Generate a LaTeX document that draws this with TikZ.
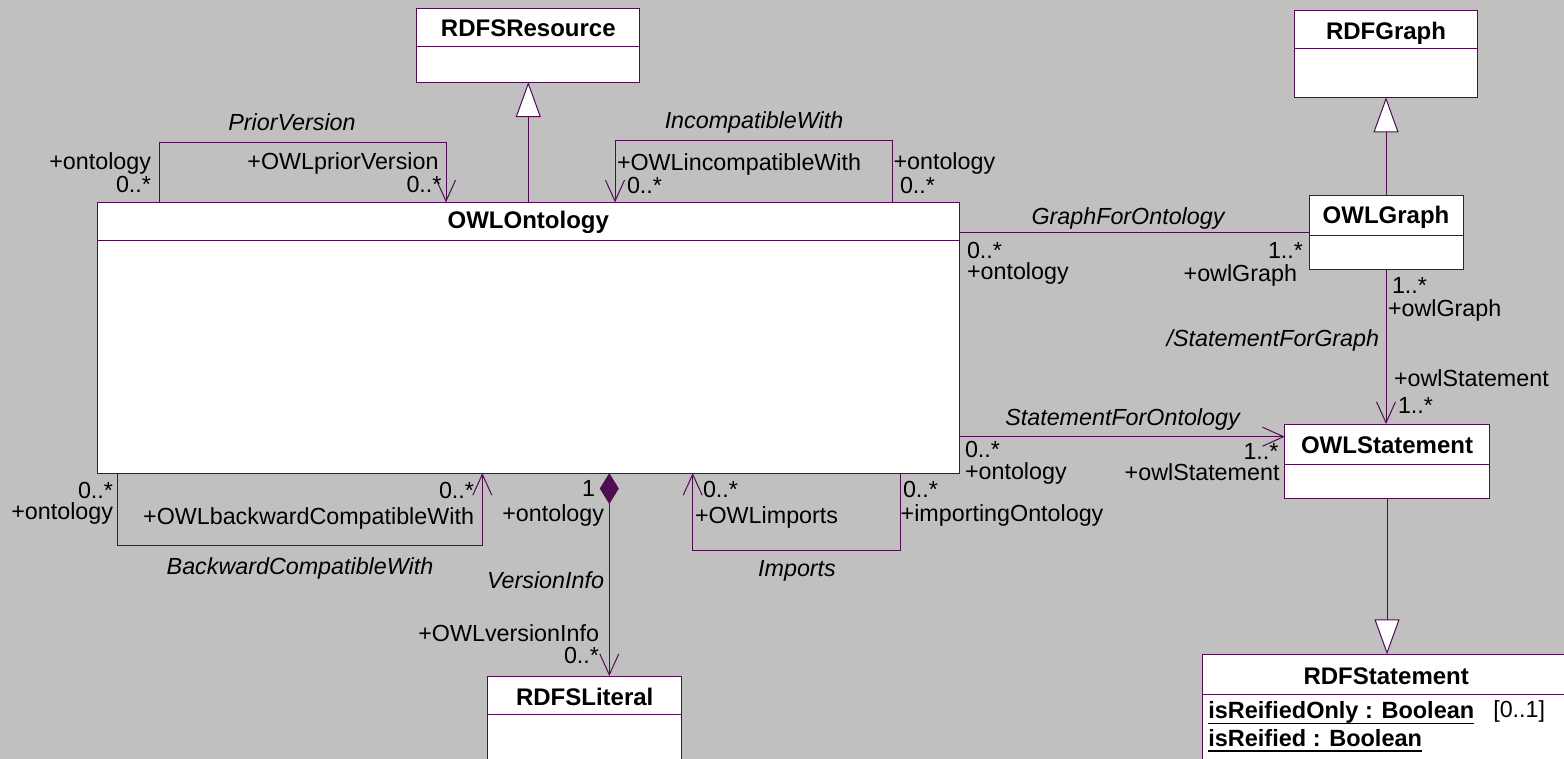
\documentclass[tikz,border=0pt]{standalone}
\usepackage{fontspec}
\setmainfont{Liberation Sans}
\usetikzlibrary{arrows.meta}
\definecolor{umlline}{RGB}{80,12,80}
\definecolor{canvasgray}{RGB}{192,192,192}

\begin{document}
\begin{tikzpicture}[x=1pt,y=-1pt,
  every node/.style={inner sep=0pt, outer sep=0pt},
  classbox/.style={draw=umlline, fill=white, line width=1pt, rectangle},
  classtitle/.style={font=\fontsize{24}{26}\selectfont\bfseries, anchor=base},
  attr/.style={font=\fontsize{23.5}{26}\selectfont\bfseries, anchor=base west},
  lbl/.style={font=\fontsize{23.3}{26}\selectfont},
  assocname/.style={font=\fontsize{23.3}{26}\selectfont\itshape},
  link/.style={draw=umlline, line width=1pt},
  nav/.style={link, -{Straight Barb[length=21pt,width=19pt]}},
  navback/.style={link, {Straight Barb[length=21pt,width=19pt]}-},
  gen/.style={link, -{Triangle[length=35pt,width=25pt,fill=white]}},
  comp/.style={link, {Diamond[length=31pt,width=19pt,fill=umlline]}-{Straight Barb[length=21pt,width=19pt]}}
]
\useasboundingbox (0,0) rectangle (1564,759);
\fill[canvasgray] (0,0) rectangle (1564,759);
\clip (0,0) rectangle (1564,759);

% ---- classes ----
\node[classbox, minimum width=223.3pt, minimum height=73.7pt] (res) at (528.3,45.2) {};
\draw[link] ([yshift=-38.4pt]res.north west) -- ([yshift=-38.4pt]res.north east);
\node[classtitle] (resT) at (528.3,36.7) {RDFSResource};

\node[classbox, minimum width=182.6pt, minimum height=87.3pt] (rg) at (1386,53.7) {};
\draw[link] ([yshift=-38.3pt]rg.north west) -- ([yshift=-38.3pt]rg.north east);
\node[classtitle] (rgT) at (1386,39.3) {RDFGraph};

\node[classbox, minimum width=154pt, minimum height=73.6pt] (og) at (1386,232.5) {};
\draw[link] ([yshift=-39.6pt]og.north west) -- ([yshift=-39.6pt]og.north east);
\node[classtitle] (ogT) at (1386,223.5) {OWLGraph};

\node[classbox, minimum width=862pt, minimum height=270.7pt] (ont) at (528.3,337.7) {};
\draw[link] ([yshift=-38.4pt]ont.north west) -- ([yshift=-38.4pt]ont.north east);
\node[classtitle] (ontT) at (528.3,229) {OWLOntology};

\node[classbox, minimum width=204.6pt, minimum height=74pt] (os) at (1387,461) {};
\draw[link] ([yshift=-40pt]os.north west) -- ([yshift=-40pt]os.north east);
\node[classtitle] (osT) at (1387,453.3) {OWLStatement};

\node[classbox, minimum width=194pt, minimum height=114pt] (lit) at (584.7,733) {};
\draw[link] ([yshift=-38pt]lit.north west) -- ([yshift=-38pt]lit.north east);
\node[classtitle] (litT) at (584.7,705.7) {RDFSLiteral};

\node[classbox, minimum width=367.7pt, minimum height=145.8pt] (rs) at (1386.2,727.2) {};
\draw[link] ([yshift=-40pt]rs.north west) -- ([yshift=-40pt]rs.north east);
\node[classtitle] (rsT) at (1386.2,684) {RDFStatement};
\node[attr] (a1) at (1208.3,718.3) {isReifiedOnly : Boolean};
\draw[line width=1.6pt] ([yshift=-5pt]a1.base west) -- ([yshift=-5pt]a1.base east);
\node[lbl, anchor=base west] (a1m) at (1493.3,717) {[0..1]};
\node[attr] (a2) at (1208.3,746.2) {isReified : Boolean};
\draw[line width=1.6pt] ([yshift=-5pt]a2.base west) -- ([yshift=-5pt]a2.base east);

% ---- generalizations ----
\draw[gen] (ont.north) -- (res.south);
\draw[gen] (og.north) -- (rg.south);
\draw[gen] (os.south) -- (os.south |- rs.north);

% ---- PriorVersion (self association) ----
\coordinate (pvL) at (159.3,142.3);
\coordinate (pvR) at (446,142.3);
\draw[nav] (ont.north -| pvL) |- (pvR) -- (ont.north -| pvR);
\node[assocname, anchor=base] (pvN) at (292,131) {PriorVersion};
\node[lbl, anchor=base east] (pvR1) at (151,169.5) {+ontology};
\node[lbl, anchor=base east] (pvM1) at (151,192.7) {0..*};
\node[lbl, anchor=base east] (pvR2) at (438.5,169.5) {+OWLpriorVersion};
\node[lbl, anchor=base east] (pvM2) at (441.5,192.7) {0..*};

% ---- IncompatibleWith (self association) ----
\coordinate (iwL) at (615,141);
\coordinate (iwR) at (892.3,141);
\draw[navback] (ont.north -| iwL) |- (iwR) -- (ont.north -| iwR);
\node[assocname, anchor=base] (iwN) at (754,128.5) {IncompatibleWith};
\node[lbl, anchor=base west] (iwR1) at (617,170.5) {+OWLincompatibleWith};
\node[lbl, anchor=base west] (iwM1) at (627,194) {0..*};
\node[lbl, anchor=base west] (iwR2) at (893.5,170) {+ontology};
\node[lbl, anchor=base west] (iwM2) at (900,194) {0..*};

% ---- GraphForOntology ----
\draw[link] (ont.east |- og.west) -- (og.west);
\node[assocname, anchor=base] (gfoN) at (1128,224.3) {GraphForOntology};
\node[lbl, anchor=base west] (gfoM1) at (967,258.5) {0..*};
\node[lbl, anchor=base west] (gfoR1) at (967,279.5) {+ontology};
\node[lbl, anchor=base east] (gfoM2) at (1303,258.3) {1..*};
\node[lbl, anchor=base east] (gfoR2) at (1297,282) {+owlGraph};

% ---- StatementForGraph ----
\draw[nav] (og.south) -- (og.south |- os.north);
\node[lbl, anchor=base west] (sfgM1) at (1392,293.3) {1..*};
\node[lbl, anchor=base west] (sfgR1) at (1388,316.5) {+owlGraph};
\node[assocname, anchor=base east] (sfgN) at (1379,347) {/StatementForGraph};
\node[lbl, anchor=base west] (sfgR2) at (1394,386.7) {+owlStatement};
\node[lbl, anchor=base west] (sfgM2) at (1398,413.3) {1..*};

% ---- StatementForOntology ----
\coordinate (sfo) at (1100,436.7);
\draw[nav] (ont.east |- sfo) -- (os.west |- sfo);
\node[assocname, anchor=base] (sfoN) at (1122.5,425) {StatementForOntology};
\node[lbl, anchor=base west] (sfoM1) at (965,457) {0..*};
\node[lbl, anchor=base west] (sfoR1) at (965,479.5) {+ontology};
\node[lbl, anchor=base east] (sfoM2) at (1278.5,459) {1..*};
\node[lbl, anchor=base east] (sfoR2) at (1279.5,480) {+owlStatement};

% ---- BackwardCompatibleWith (self association) ----
\coordinate (bcL) at (117.7,545);
\coordinate (bcR) at (482.3,545);
\draw[nav] (ont.south -| bcL) |- (bcR) -- (ont.south -| bcR);
\node[assocname, anchor=base] (bcN) at (300,574) {BackwardCompatibleWith};
\node[lbl, anchor=base east] (bcM1) at (113,498.3) {0..*};
\node[lbl, anchor=base east] (bcR1) at (113,519.5) {+ontology};
\node[lbl, anchor=base east] (bcM2) at (474,498.3) {0..*};
\node[lbl, anchor=base east] (bcR2) at (474,524) {+OWLbackwardCompatibleWith};

% ---- Imports (self association) ----
\coordinate (imL) at (692.7,550.5);
\coordinate (imR) at (900,550.5);
\draw[navback] (ont.south -| imL) |- (imR) -- (ont.south -| imR);
\node[assocname, anchor=base] (imN) at (797,576) {Imports};
\node[lbl, anchor=base west] (imM1) at (703,497.3) {0..*};
\node[lbl, anchor=base west] (imR1) at (695,523.5) {+OWLimports};
\node[lbl, anchor=base west] (imM2) at (903,497.5) {0..*};
\node[lbl, anchor=base west] (imR2) at (900.7,521) {+importingOntology};

% ---- VersionInfo (composition) ----
\coordinate (vi) at (609.3,600);
\draw[comp] (ont.south -| vi) -- (lit.north -| vi);
\node[lbl, anchor=base east] (viM1) at (595,496.5) {1};
\node[lbl, anchor=base east] (viR1) at (604,521) {+ontology};
\node[assocname, anchor=base east] (viN) at (604,588.5) {VersionInfo};
\node[lbl, anchor=base east] (viR2) at (599,641.7) {+OWLversionInfo};
\node[lbl, anchor=base east] (viM2) at (599,663) {0..*};
\end{tikzpicture}
\end{document}
